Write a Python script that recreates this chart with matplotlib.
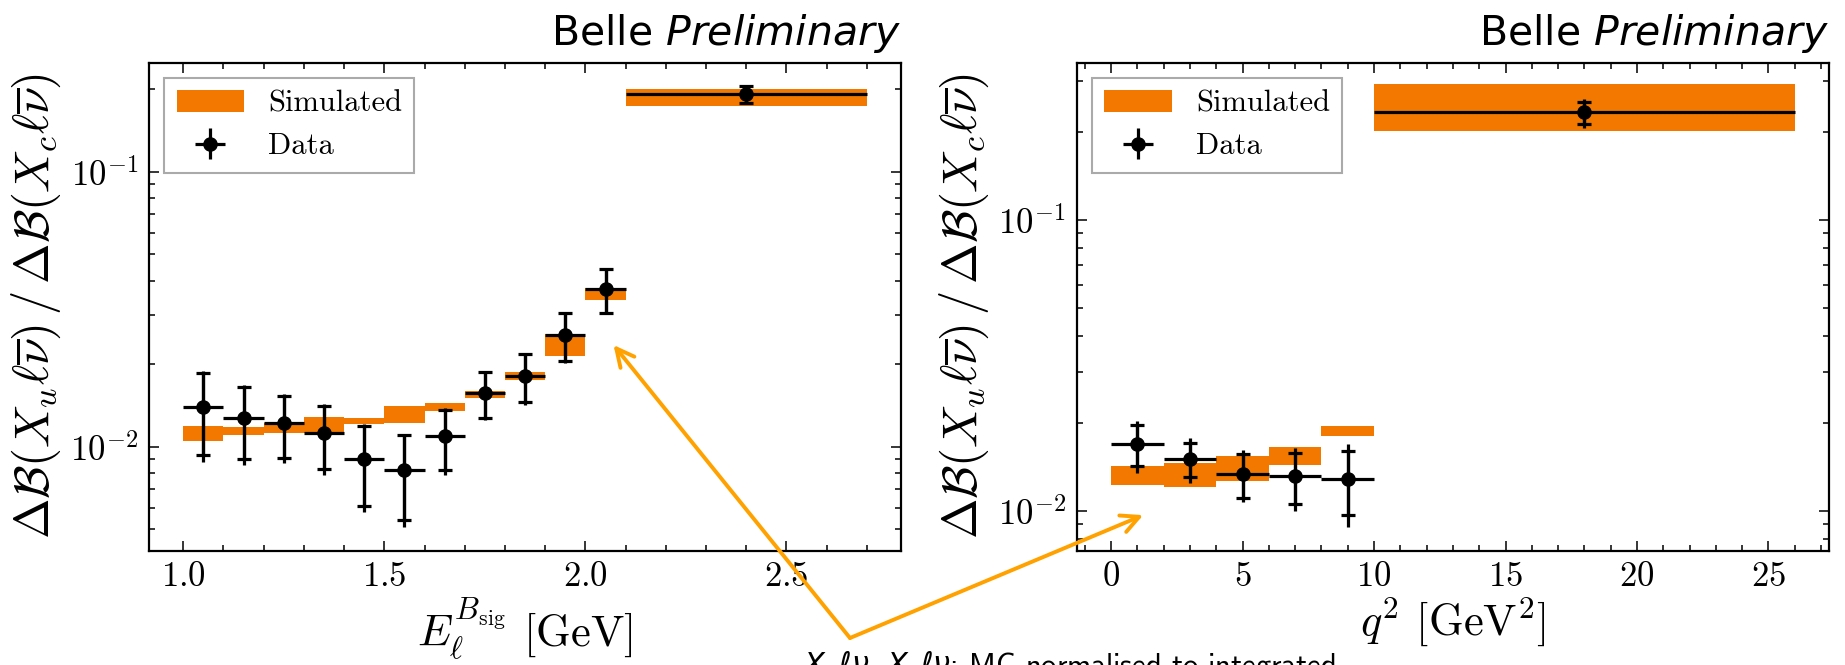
import numpy as np
import matplotlib
matplotlib.use("Agg")
import matplotlib.pyplot as plt
from matplotlib.ticker import MultipleLocator, LogLocator, NullFormatter

plt.rcParams.update({
    "font.family": "serif",
    "font.serif": ["cmr10"],
    "mathtext.fontset": "cm",
    "axes.formatter.use_mathtext": True,
    "axes.linewidth": 1.6,
})

# lepton energy spectrum (left)
el_edges = np.array([1.0, 1.1, 1.2, 1.3, 1.4, 1.5, 1.6, 1.7, 1.8, 1.9, 2.0, 2.1, 2.7])
el_sim_lo = np.array([0.0105, 0.0110, 0.0112, 0.0112, 0.0121, 0.0122, 0.0135, 0.0150, 0.0175, 0.0213, 0.0341, 0.1734])
el_sim_hi = np.array([0.0119, 0.0118, 0.0122, 0.0128, 0.0127, 0.0140, 0.0144, 0.0159, 0.0186, 0.0257, 0.0377, 0.1993])
el_data = np.array([0.0139, 0.0127, 0.0122, 0.0112, 0.0090, 0.0082, 0.0109, 0.0157, 0.0181, 0.0255, 0.0374, 0.1912])
el_stat = np.array([0.0046, 0.0037, 0.0031, 0.0029, 0.0029, 0.0028, 0.0027, 0.0030, 0.0036, 0.0050, 0.0067, 0.0138])
el_tot_lo = np.array([0.0051, 0.0041, 0.0035, 0.0033, 0.0032, 0.0031, 0.0030, 0.0032, 0.0039, 0.0054, 0.0071, 0.0145])
el_tot_hi = np.array([0.0049, 0.0040, 0.0033, 0.0031, 0.0031, 0.0029, 0.0029, 0.0032, 0.0038, 0.0052, 0.0069, 0.0140])

# q2 spectrum (right)
q2_edges = np.array([0, 2, 4, 6, 8, 10, 26])
q2_sim_lo = np.array([0.01226, 0.01204, 0.01269, 0.01436, 0.01807, 0.2028])
q2_sim_hi = np.array([0.01428, 0.01462, 0.01543, 0.01652, 0.01956, 0.2936])
q2_data = np.array([0.0170, 0.0151, 0.0134, 0.0132, 0.0129, 0.2347])
q2_stat = np.array([0.0027, 0.0020, 0.0023, 0.00265, 0.0032, 0.020])
q2_tot_lo = np.array([0.0035, 0.0026, 0.0027, 0.0032, 0.0041, 0.028])
q2_tot_hi = np.array([0.0033, 0.0027, 0.0028, 0.0032, 0.0041, 0.0255])

orange = "#f27800"

fig = plt.figure(figsize=(18.45, 6.65), dpi=100)
ax1 = fig.add_axes([0.0808, 0.1719, 0.4076, 0.7338])
ax2 = fig.add_axes([0.5837, 0.1719, 0.4076, 0.7338])


def draw(ax, edges, sim_lo, sim_hi, data, stat, tot_lo, tot_hi):
    centers = 0.5 * (edges[:-1] + edges[1:])
    half = 0.5 * np.diff(edges)
    sim = ax.bar(edges[:-1], sim_hi - sim_lo, width=np.diff(edges), bottom=sim_lo,
                 align="edge", color=orange, lw=0, label="Simulated", zorder=1)
    dat = ax.errorbar(centers, data, xerr=half, yerr=[tot_lo, tot_hi], fmt="o", color="k",
                      ms=9.5, elinewidth=2.3, capsize=0, label="Data", zorder=3)
    ax.errorbar(centers, data, yerr=stat, fmt="none", ecolor="k",
                elinewidth=2.3, capsize=5, capthick=2.3, zorder=2)
    ax.set_yscale("log")
    ax.tick_params(which="both", direction="in", top=True, right=True, labelsize=25, width=1.1)
    ax.tick_params(which="major", length=7, pad=8)
    ax.tick_params(which="minor", length=4)
    ax.yaxis.set_minor_locator(LogLocator(subs=np.arange(2, 10)))
    ax.yaxis.set_minor_formatter(NullFormatter())
    ax.set_ylabel(r"$\Delta\mathcal{B}(X_u\ell\overline{\nu})\,/\,\Delta\mathcal{B}(X_c\ell\overline{\nu})$",
                  fontsize=35, labelpad=5)
    leg = ax.legend([sim, dat], ["Simulated", "Data"], loc="upper left", fontsize=22,
                    fancybox=False, framealpha=1, edgecolor="#aaaaaa", handlelength=2.2)
    leg.get_frame().set_linewidth(1.5)
    ax.text(1.0, 1.036, r"Belle $\mathit{Preliminary}$", transform=ax.transAxes,
            ha="right", va="baseline", fontsize=29.5, family="DejaVu Sans",
            math_fontfamily="dejavusans")


draw(ax1, el_edges, el_sim_lo, el_sim_hi, el_data, el_stat, el_tot_lo, el_tot_hi)
draw(ax2, q2_edges, q2_sim_lo, q2_sim_hi, q2_data, q2_stat, q2_tot_lo, q2_tot_hi)

ax1.set_ylim(0.00418, 0.249)
ax2.set_ylim(0.00729, 0.3475)
ax1.xaxis.set_major_locator(MultipleLocator(0.5))
ax1.xaxis.set_minor_locator(MultipleLocator(0.1))
ax2.xaxis.set_major_locator(MultipleLocator(5))
ax2.xaxis.set_minor_locator(MultipleLocator(1))
ax1.set_xlabel(r"$E_\ell^{B_{\rm sig}}$ [GeV]", fontsize=32, labelpad=2)
ax2.set_xlabel(r"$q^2$ [GeV$^2$]", fontsize=32, labelpad=2)

# arrows pointing from the note to both panels
vertex = (0.4607, 0.0406)
arrow_kw = dict(arrowstyle="->", color="#ffa200", lw=2.8, mutation_scale=32, shrinkA=0, shrinkB=0)
ax1.annotate("", xy=(2.07, 0.0234), xycoords="data", xytext=vertex, textcoords="figure fraction",
             arrowprops=arrow_kw, annotation_clip=False)
ax2.annotate("", xy=(1.22, 0.00966), xycoords="data", xytext=vertex, textcoords="figure fraction",
             arrowprops=arrow_kw, annotation_clip=False)

fig.text(0.4347, -0.0135, r"$X_u\ell\nu$, $X_c\ell\nu$: MC normalised to integrated",
         fontsize=22, family="cmss10", math_fontfamily="dejavusans",
         va="baseline", ha="left")

fig.savefig("out.png", dpi=100)
